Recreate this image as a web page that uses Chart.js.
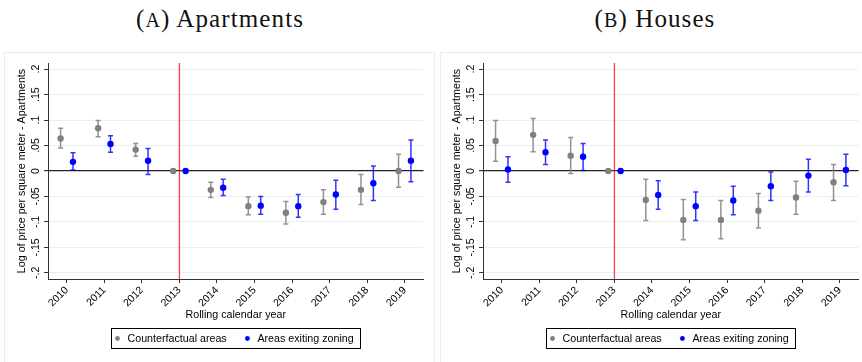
<!DOCTYPE html>
<html>
<head>
<meta charset="utf-8">
<script src="https://cdn.jsdelivr.net/npm/chart.js@4"></script>
<style>
  html, body { margin: 0; padding: 0; background: #fff; }
  body { width: 862px; height: 362px; position: relative; overflow: hidden; }
  .panel { position: absolute; top: 52px; height: 330px; border: 1px solid #e6eef0; }
  .title { position: absolute; top: 6px; line-height: 25px; font-family: 'Liberation Serif', serif; font-size: 25px; letter-spacing: 1.1px; color: #111; transform: translateX(-50%); white-space: nowrap; }
  .sc { font-size: 0.8em; }
  canvas { position: absolute; top: 0; }
</style>
</head>
<body>
<div class="panel" style="left:4px; width:429px;"></div>
<div class="panel" style="left:440px; width:430px;"></div>
<div class="title" style="left:220px">(<span class="sc">A</span>) Apartments</div>
<div class="title" style="left:655px">(<span class="sc">B</span>) Houses</div>
<canvas id="aptChart" width="435" height="362" style="left:0"></canvas>
<canvas id="houseChart" width="427" height="362" style="left:435px"></canvas>
<script>
// Event-study estimates

const years = [2010, 2011, 2012, 2013, 2014, 2015, 2016, 2017, 2018, 2019];
const treatYear = 2013;
const yTickValues = [-0.2, -0.15, -0.1, -0.05, 0, 0.05, 0.1, 0.15, 0.2];
const yTickLabels = ['-.2', '-.15', '-.1', '-.05', '0', '.05', '.1', '.15', '.2'];
const seriesLabels = ['Counterfactual areas', 'Areas exiting zoning'];
const xTitle = 'Rolling calendar year';
const yTitle = 'Log of price per square meter - Apartments';

// (A) Apartments
const aptCtrl   = [0.064, 0.084, 0.042, 0, -0.037, -0.069, -0.082, -0.061, -0.037, 0.000];
const aptCtrlLo = [0.045, 0.067, 0.029, null, -0.052, -0.086, -0.104, -0.085, -0.066, -0.032];
const aptCtrlHi = [0.084, 0.099, 0.054, null, -0.022, -0.051, -0.060, -0.037, -0.007, 0.033];
const aptTreat   = [0.018, 0.053, 0.020, 0, -0.033, -0.068, -0.069, -0.046, -0.024, 0.020];
const aptTreatLo = [0.002, 0.037, -0.007, null, -0.048, -0.085, -0.091, -0.075, -0.058, -0.021];
const aptTreatHi = [0.036, 0.069, 0.044, null, -0.016, -0.050, -0.046, -0.018, 0.010, 0.061];

// (B) Houses
const houseCtrl   = [0.059, 0.071, 0.030, 0, -0.057, -0.096, -0.096, -0.078, -0.052, -0.022];
const houseCtrlLo = [0.019, 0.038, -0.005, null, -0.097, -0.135, -0.133, -0.112, -0.085, -0.058];
const houseCtrlHi = [0.099, 0.103, 0.066, null, -0.016, -0.056, -0.058, -0.044, -0.020, 0.013];
const houseTreat   = [0.003, 0.037, 0.028, 0, -0.047, -0.069, -0.058, -0.030, -0.009, 0.002];
const houseTreatLo = [-0.022, 0.013, 0.001, null, -0.075, -0.097, -0.086, -0.058, -0.041, -0.029];
const houseTreatHi = [0.028, 0.061, 0.054, null, -0.019, -0.041, -0.030, -0.002, 0.023, 0.033];

const FONT = "'Liberation Sans', Arial, sans-serif";
const GRAY = '#808080';
const BLUE = '#0000ff';
const DODGE = 0.165;

function makeDataset(label, color, barColor, vals, lo, hi, shift) {
    return {
        label: label,
        data: years.map((yr, i) => ({ x: yr + shift, y: vals[i] })),
        lo: lo,
        hi: hi,
        barColor: barColor,
        backgroundColor: color,
        borderColor: color,
        borderWidth: 0,
        pointRadius: 3.2,
        pointHoverRadius: 3.2
    };
}

// red reference line + confidence intervals, drawn under the points
const errorBars = {
    id: 'errorBars',
    beforeDatasetsDraw(chart) {
        const { ctx, chartArea } = chart;
        const x = chart.scales.x, y = chart.scales.y;
        ctx.save();
        const xr = x.getPixelForValue(treatYear);
        ctx.strokeStyle = 'rgba(255,0,0,0.75)';
        ctx.lineWidth = 1.3;
        ctx.beginPath();
        ctx.moveTo(xr, chartArea.top);
        ctx.lineTo(xr, chartArea.bottom);
        ctx.stroke();

        chart.data.datasets.forEach((ds, di) => {
            const meta = chart.getDatasetMeta(di);
            ctx.strokeStyle = ds.barColor;
            ctx.lineWidth = 1.5;
            meta.data.forEach((pt, i) => {
                if (ds.lo[i] == null) return;
                const yl = y.getPixelForValue(ds.lo[i]);
                const yh = y.getPixelForValue(ds.hi[i]);
                ctx.beginPath();
                ctx.moveTo(pt.x, yl); ctx.lineTo(pt.x, yh);
                ctx.moveTo(pt.x - 2.5, yl); ctx.lineTo(pt.x + 2.5, yl);
                ctx.moveTo(pt.x - 2.5, yh); ctx.lineTo(pt.x + 2.5, yh);
                ctx.stroke();
            });
        });
        ctx.restore();
    }
};

// Stata-style legend: one row in a black box under the axis title
const boxLegend = {
    id: 'boxLegend',
    afterDraw(chart) {
        const { ctx, chartArea } = chart;
        const ds = chart.data.datasets;
        ctx.save();
        ctx.font = '10.7px ' + FONT;
        const w = ds.map(d => ctx.measureText(d.label).width);
        const width = Math.round(16 + w[0] + 20.7 + 10 + w[1] + 7);
        const left = Math.round((chartArea.left + chartArea.right) / 2 - width / 2) + 0.5;
        const top = chart.height - 33.5;
        const h = 20;
        ctx.strokeStyle = '#000';
        ctx.lineWidth = 1;
        ctx.strokeRect(left, top, width, h);

        const cy = top + h / 2;
        const x1 = left + 6;
        const x2 = left + 16 + w[0] + 20.7;
        [[x1, ds[0]], [x2, ds[1]]].forEach(([px, d]) => {
            ctx.fillStyle = d.backgroundColor;
            ctx.beginPath();
            ctx.arc(px, cy, 2.4, 0, Math.PI * 2);
            ctx.fill();
            ctx.fillStyle = '#000';
            ctx.textBaseline = 'middle';
            ctx.textAlign = 'left';
            ctx.fillText(d.label, px + 10, cy + 0.5);
        });
        ctx.restore();
    }
};

function makeChart(id, ctrl, ctrlLo, ctrlHi, treat, treatLo, treatHi, padRight) {
    const datasets = [
        makeDataset(seriesLabels[0], GRAY, 'rgba(128,128,128,0.85)', ctrl, ctrlLo, ctrlHi, -DODGE),
        makeDataset(seriesLabels[1], BLUE, 'rgba(0,0,255,0.8)', treat, treatLo, treatHi, DODGE)
    ];
    return new Chart(document.getElementById(id), {
        type: 'scatter',
        data: { datasets: datasets },
        options: {
            responsive: false,
            animation: false,
            layout: { padding: { top: 63, bottom: 41, left: 0, right: padRight } },
            plugins: { legend: { display: false }, tooltip: { enabled: false } },
            scales: {
                x: {
                    type: 'linear',
                    min: 2009.5,
                    max: 2019.5,
                    afterBuildTicks: s => { s.ticks = years.map(v => ({ value: v })); },
                    afterFit: s => { s.height = 42; },
                    ticks: {
                        color: '#000',
                        font: { family: FONT, size: 10.5 },
                        minRotation: 45,
                        maxRotation: 45,
                        padding: 1,
                        callback: v => String(v)
                    },
                    grid: { drawOnChartArea: false, drawTicks: true, tickLength: 4, tickColor: '#333' },
                    border: { color: '#333' },
                    title: { display: true, text: xTitle, color: '#000', font: { family: FONT, size: 10.7 }, padding: 0 }
                },
                y: {
                    min: -0.212,
                    max: 0.212,
                    afterBuildTicks: s => { s.ticks = yTickValues.map(v => ({ value: v })); },
                    afterFit: s => { s.width = 48; },
                    ticks: {
                        color: '#000',
                        font: { family: FONT, size: 10.5 },
                        minRotation: 90,
                        maxRotation: 90,
                        crossAlign: 'center',
                        padding: -1,
                        callback: (v, i) => yTickLabels[i]
                    },
                    grid: {
                        color: c => (c.tick && c.tick.value === 0) ? '#222' : '#e6eff1',
                        lineWidth: c => (c.tick && c.tick.value === 0) ? 1.2 : 1,
                        tickLength: 4,
                        tickColor: '#333'
                    },
                    border: { color: '#333' },
                    title: { display: true, text: yTitle, color: '#000', font: { family: FONT, size: 10.7 }, padding: { top: 16, bottom: 0 } }
                }
            }
        },
        plugins: [errorBars, boxLegend]
    });
}

makeChart('aptChart', aptCtrl, aptCtrlLo, aptCtrlHi, aptTreat, aptTreatLo, aptTreatHi, 11.5);
makeChart('houseChart', houseCtrl, houseCtrlLo, houseCtrlHi, houseTreat, houseTreatLo, houseTreatHi, 3.5);
</script>
</body>
</html>
